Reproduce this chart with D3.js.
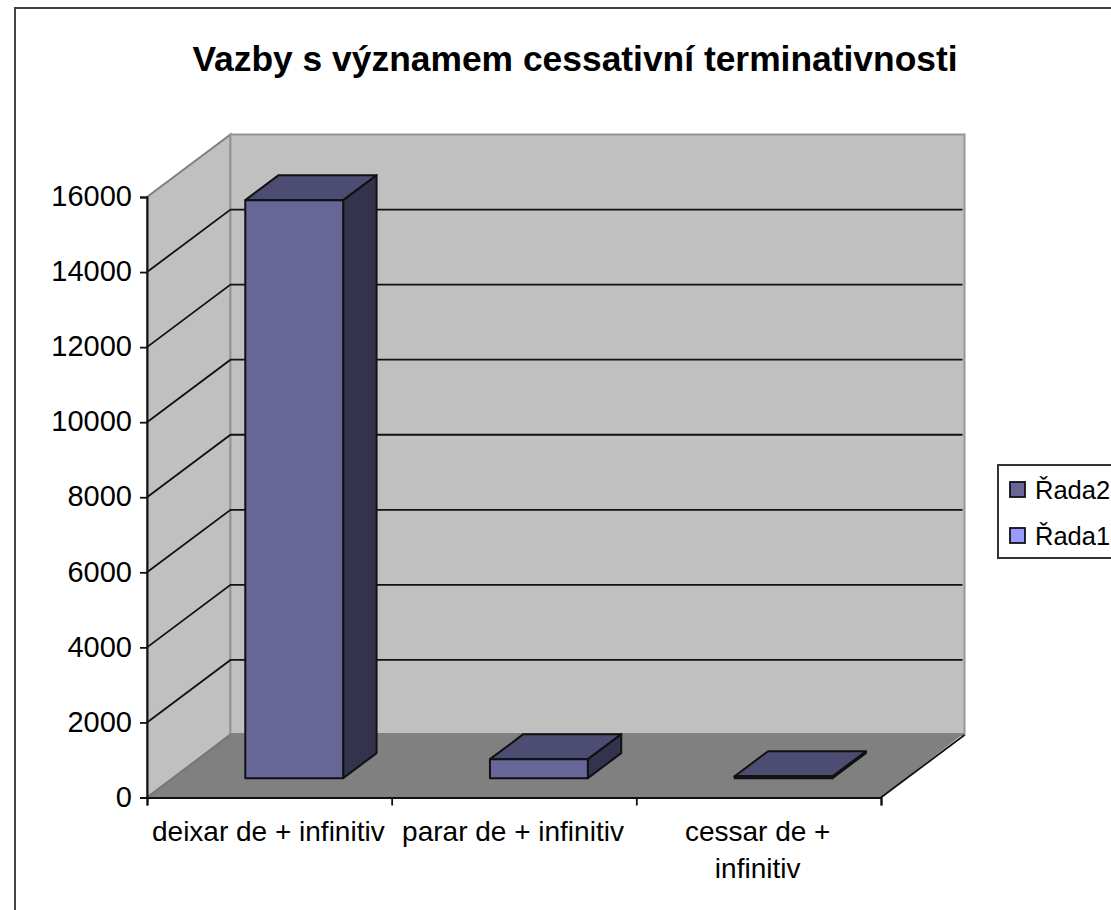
<!DOCTYPE html>
<html>
<head>
<meta charset="utf-8">
<script src="https://cdn.jsdelivr.net/npm/d3@7"></script>
<style>
  html, body { margin: 0; padding: 0; background: #fff; overflow: hidden; }
  text { font-family: "Liberation Sans", Arial, sans-serif; fill: #000; }
</style>
</head>
<body>
<div id="chart"></div>
<script>
const categories = ["deixar de + infinitiv", "parar de + infinitiv", "cessar de + infinitiv"];
const rada1 = [0, 0, 0];
const rada2 = [15400, 505, 50];
const yTicks = [0, 2000, 4000, 6000, 8000, 10000, 12000, 14000, 16000];
const legendNames = ["Řada2", "Řada1"];
const legendColors = ["#666699", "#9999ff"];

const width = 1111, height = 910;
const depthX = 83.5, depthY = 62.5;   // wall depth
const floorLift = 2;                  // floor meets the back wall a bit above the zero line
const barFront = 0.31;                // where the bar front sits on the floor, 0..1
const barThick = 0.4;
const barShift = -1;

const svg = d3.select("#chart").append("svg")
    .attr("width", width)
    .attr("height", height);

// outer frame runs off the page on the right and bottom
svg.append("rect")
    .attr("x", 15).attr("y", 8)
    .attr("width", 1300).attr("height", 1200)
    .attr("fill", "#fff").attr("stroke", "#444").attr("stroke-width", 2);

svg.append("text")
    .attr("x", 575).attr("y", 71)
    .attr("text-anchor", "middle")
    .attr("font-size", 35.4).attr("font-weight", "bold")
    .text("Vazby s významem cessativní terminativnosti");

const x = d3.scaleBand().domain(categories).range([147, 881]);
const y = d3.scaleLinear().domain([0, 16000]).range([797.5, 197]);

// front coords -> pushed back by z (0 front, 1 back wall)
const pt = (px, py, z) => [px + z * depthX, py - z * depthY];
const poly = (pts) => "M" + pts.map(p => p.join(",")).join("L") + "Z";

const x0 = x.range()[0], x1 = x.range()[1];
const yBase = y(0), yTop = y(16000);

// walls and floor
svg.append("path")
    .attr("d", poly([pt(x0, yBase, 0), pt(x0, yTop, 0), pt(x0, yTop, 1), pt(x0, yBase, 1)]))
    .attr("fill", "#c0c0c0").attr("stroke", "#808080").attr("stroke-width", 2);
svg.append("path")
    .attr("d", poly([pt(x0, yBase, 1), pt(x0, yTop, 1), pt(x1, yTop, 1), pt(x1, yBase, 1)]))
    .attr("fill", "#c0c0c0").attr("stroke", "#969696").attr("stroke-width", 2);
svg.append("path")
    .attr("d", poly([pt(x0, yBase, 0), pt(x1, yBase, 0), pt(x1, yBase - floorLift, 1), pt(x0, yBase - floorLift, 1)]))
    .attr("fill", "#808080");

// gridlines
const grid = svg.append("g").attr("fill", "none").attr("stroke", "#111").attr("stroke-width", 1.8);
yTicks.filter(d => d > 0 && d < 16000).forEach(d => {
    grid.append("path").attr("d", d3.line()([pt(x0, y(d), 0), pt(x0, y(d), 1), pt(x1 - 2, y(d), 1)]));
});

// floor edges
svg.append("path")
    .attr("d", d3.line()([pt(x1, yBase, 0), pt(x1, yBase, 1)]))
    .attr("fill", "none").attr("stroke", "#111").attr("stroke-width", 1.8);
svg.append("path")
    .attr("d", d3.line()([pt(x0, yBase, 0), pt(x0, yBase, 1)]))
    .attr("fill", "none").attr("stroke", "#777").attr("stroke-width", 2);

// bars
const barW = x.bandwidth() / 2.5;
const bars = svg.append("g").attr("stroke", "#111").attr("stroke-width", 2).attr("stroke-linejoin", "round");
categories.forEach((c, i) => {
    const v = rada1[i] + rada2[i];
    const left = x(c) + (x.bandwidth() - barW) / 2 + barShift, right = left + barW;
    const b = yBase, t = y(v);
    const z0 = barFront, z1 = z0 + barThick;
    bars.append("path")
        .attr("d", poly([pt(right, b, z0), pt(right, t, z0), pt(right, t, z1), pt(right, b, z1)]))
        .attr("fill", "#33334d");
    bars.append("path")
        .attr("d", poly([pt(left, t, z0), pt(right, t, z0), pt(right, t, z1), pt(left, t, z1)]))
        .attr("fill", "#4d4d73");
    bars.append("path")
        .attr("d", poly([pt(left, b, z0), pt(right, b, z0), pt(right, t, z0), pt(left, t, z0)]))
        .attr("fill", "#666699");
});

// axes
const yAxis = svg.append("g")
    .attr("transform", `translate(${x0},0)`)
    .call(d3.axisLeft(y).tickValues(yTicks).tickFormat(d3.format("d")).tickSize(7).tickPadding(8));
yAxis.selectAll("text").attr("font-size", 29).attr("dy", "0.3em").attr("fill", "#000");

const xAxis = svg.append("g")
    .attr("transform", `translate(0,${yBase})`)
    .call(d3.axisBottom(d3.scaleLinear().domain([0, 3]).range([x0, x1])).tickValues([0, 1, 2, 3]).tickSize(8).tickFormat(""));
svg.selectAll(".domain").attr("stroke", "#111").attr("stroke-width", 2);
svg.selectAll(".tick line").attr("stroke", "#111").attr("stroke-width", 1.8);

// category labels, wrapped the way the picture wraps them
const wrapped = { "cessar de + infinitiv": ["cessar de +", "infinitiv"] };
categories.forEach(c => {
    const lines = wrapped[c] || [c];
    lines.forEach((line, k) => {
        svg.append("text")
            .attr("x", x(c) + x.bandwidth() / 2 - 1)
            .attr("y", 841 + k * 37)
            .attr("text-anchor", "middle")
            .attr("font-size", 28)
            .text(line);
    });
});

// legend, cut by the page edge
const legend = svg.append("g");
legend.append("rect")
    .attr("x", 998).attr("y", 465).attr("width", 200).attr("height", 93)
    .attr("fill", "#fff").attr("stroke", "#333").attr("stroke-width", 2);
legendNames.forEach((name, i) => {
    legend.append("rect")
        .attr("x", 1010).attr("y", 482 + i * 46).attr("width", 15).attr("height", 15)
        .attr("fill", legendColors[i]).attr("stroke", "#111").attr("stroke-width", 1.8);
    legend.append("text")
        .attr("x", 1035).attr("y", 499 + i * 46)
        .attr("font-size", 25.5)
        .text(name);
});
</script>
</body>
</html>
